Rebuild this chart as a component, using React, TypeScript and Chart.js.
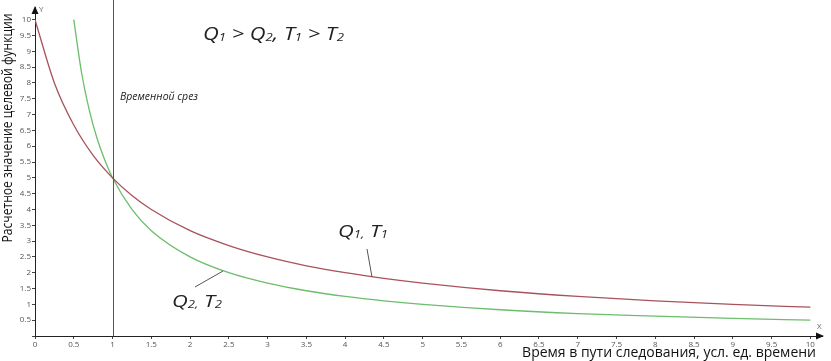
import React, { useEffect, useRef } from "react";
import { Chart, registerables } from "chart.js";

Chart.register(...registerables);

// Q1, T1 curve (red)
const q1X = [0, 0.25, 0.5, 0.75, 1, 1.25, 1.5, 2, 2.5, 3, 3.5, 4, 4.5, 5, 6, 7, 8, 9, 10];
const q1Y = [10, 8, 6.67, 5.71, 5, 4.44, 4, 3.33, 2.86, 2.5, 2.22, 2, 1.82, 1.67, 1.43, 1.25, 1.11, 1, 0.91];

// Q2, T2 curve (green)
const q2X = [0.5, 0.6, 0.7, 0.8, 0.9, 1, 1.25, 1.5, 2, 2.5, 3, 3.5, 4, 4.5, 5, 6, 7, 8, 9, 10];
const q2Y = [10, 8.33, 7.14, 6.25, 5.56, 5, 4, 3.33, 2.5, 2, 1.67, 1.43, 1.25, 1.11, 1, 0.83, 0.71, 0.63, 0.56, 0.5];

const timeSlice = 1;
const xTickLabels = ["0", "0.5", "1", "1.5", "2", "2.5", "3", "3.5", "4", "4.5", "5", "5.5", "6", "6.5", "7", "7.5", "8", "8.5", "9", "9.5", "10"];
const yTickLabels = ["", "0.5", "1", "1.5", "2", "2.5", "3", "3.5", "4", "4.5", "5", "5.5", "6", "6.5", "7", "7.5", "8", "8.5", "9", "9.5", "10"];

const xTitle = "Время в пути следования, усл. ед. времени";
const yTitle = "Расчетное значение целевой функции";
const sliceLabel = "Временной срез";

type Part = { t: string; sub?: boolean };
const headline: Part[] = [
  { t: "Q" }, { t: "1", sub: true }, { t: " > Q" }, { t: "2", sub: true }, { t: ", T" }, { t: "1", sub: true }, { t: " > T" }, { t: "2", sub: true },
];
const label1: Part[] = [{ t: "Q" }, { t: "1,", sub: true }, { t: " T" }, { t: "1", sub: true }];
const label2: Part[] = [{ t: "Q" }, { t: "2,", sub: true }, { t: " T" }, { t: "2", sub: true }];

function drawRich(ctx: CanvasRenderingContext2D, parts: Part[], x: number, y: number, size: number, targetW: number) {
  ctx.save();
  ctx.textBaseline = "alphabetic";
  ctx.textAlign = "left";
  let w = 0;
  for (const p of parts) {
    ctx.font = `italic ${p.sub ? size * 0.6 : size}px "Open Sans"`;
    w += ctx.measureText(p.t).width;
  }
  ctx.translate(x, y);
  ctx.scale(targetW / w, 1);
  let cx = 0;
  for (const p of parts) {
    ctx.font = `italic ${p.sub ? size * 0.6 : size}px "Open Sans"`;
    ctx.fillText(p.t, cx, p.sub ? size * 0.04 : 0);
    cx += ctx.measureText(p.t).width;
  }
  ctx.restore();
}

const annotPlugin = {
  id: "annot",
  afterDraw(chart: any) {
    const ctx: CanvasRenderingContext2D = chart.ctx;
    const xs = chart.scales.x;
    const ys = chart.scales.y;
    const area = chart.chartArea;
    ctx.save();
    // vertical time slice line
    const vx = Math.round(xs.getPixelForValue(timeSlice)) + 0.5;
    ctx.strokeStyle = "#555";
    ctx.lineWidth = 1;
    ctx.beginPath();
    ctx.moveTo(vx, 0);
    ctx.lineTo(vx, ys.getPixelForValue(0));
    ctx.stroke();

    // arrows
    const ox = xs.getPixelForValue(0);
    const oy = ys.getPixelForValue(0);
    ctx.fillStyle = "#111";
    ctx.beginPath();
    ctx.moveTo(ox, area.top - 1);
    ctx.lineTo(ox - 3.5, area.top + 7);
    ctx.lineTo(ox + 3.5, area.top + 7);
    ctx.closePath();
    ctx.fill();
    ctx.beginPath();
    ctx.moveTo(area.right + 2, oy);
    ctx.lineTo(area.right - 6, oy - 3.5);
    ctx.lineTo(area.right - 6, oy + 3.5);
    ctx.closePath();
    ctx.fill();

    ctx.fillStyle = "#666";
    ctx.font = '8px "Open Sans"';
    ctx.textBaseline = "middle";
    ctx.textAlign = "left";
    ctx.fillText("Y", ox + 4, area.top + 3);
    ctx.fillText("X", area.right - 5, oy - 9);

    // y-axis title
    ctx.save();
    ctx.fillStyle = "#111";
    ctx.font = '15px "Open Sans"';
    ctx.textAlign = "center";
    ctx.textBaseline = "alphabetic";
    ctx.translate(12, 128);
    ctx.rotate(-Math.PI / 2);
    const yw = ctx.measureText(yTitle).width;
    ctx.scale(229 / yw, 1);
    ctx.fillText(yTitle, 0, 0);
    ctx.restore();

    // x-axis title
    ctx.fillStyle = "#111";
    ctx.font = '14px "Open Sans"';
    ctx.textAlign = "right";
    ctx.textBaseline = "alphabetic";
    ctx.fillText(xTitle, 816, 357);

    ctx.fillStyle = "#222";
    drawRich(ctx, headline, 203, 40, 18.5, 141);
    ctx.font = 'italic 10.5px "Open Sans"';
    ctx.textBaseline = "alphabetic";
    ctx.textAlign = "left";
    ctx.fillText(sliceLabel, 120, 100);

    drawRich(ctx, label1, 338, 237, 16.5, 50);
    drawRich(ctx, label2, 172, 307, 16.5, 50);

    // leader lines
    ctx.strokeStyle = "#555";
    ctx.lineWidth = 1;
    ctx.beginPath();
    ctx.moveTo(367, 249);
    ctx.lineTo(372, 277);
    ctx.moveTo(195, 287);
    ctx.lineTo(223, 271);
    ctx.stroke();
    ctx.restore();
  },
};

export default function App() {
  const ref = useRef<HTMLCanvasElement>(null);
  useEffect(() => {
    if (!ref.current) return;
    Chart.defaults.font.family = '"Open Sans"';
    const chart = new Chart(ref.current, {
      type: "line",
      data: {
        datasets: [
          {
            label: "Q1, T1",
            data: q1X.map((x, i) => ({ x, y: q1Y[i] })),
            borderColor: "#a8525c",
            borderWidth: 1.3,
            pointRadius: 0,
            cubicInterpolationMode: "monotone",
            fill: false,
          },
          {
            label: "Q2, T2",
            data: q2X.map((x, i) => ({ x, y: q2Y[i] })),
            borderColor: "#6cbd6c",
            borderWidth: 1.3,
            pointRadius: 0,
            cubicInterpolationMode: "monotone",
            fill: false,
          },
        ],
      },
      options: {
        responsive: false,
        animation: false,
        layout: { padding: { top: 7, right: 9, left: 0, bottom: 0 } },
        plugins: { legend: { display: false }, tooltip: { enabled: false } },
        scales: {
          x: {
            type: "linear",
            min: 0,
            max: 10.15,
            border: { color: "#222", width: 1 },
            grid: { drawOnChartArea: false, drawTicks: true, tickLength: 3, color: "#444" },
            ticks: {
              stepSize: 0.5,
              includeBounds: false,
              maxRotation: 0,
              autoSkip: false,
              padding: 1,
              color: "#555",
              font: { size: 8 },
              callback: (v: any) => xTickLabels[Math.round(Number(v) * 2)] ?? "",
            },
            afterFit: (s: any) => {
              s.height = 25;
            },
          },
          y: {
            type: "linear",
            min: 0,
            max: 10.4,
            border: { color: "#222", width: 1 },
            grid: { drawOnChartArea: false, drawTicks: true, tickLength: 3, color: "#444" },
            ticks: {
              stepSize: 0.5,
              includeBounds: false,
              autoSkip: false,
              padding: 1,
              color: "#555",
              font: { size: 8 },
              callback: (v: any) => yTickLabels[Math.round(Number(v) * 2)] ?? "",
            },
            afterFit: (s: any) => {
              s.width = 35;
            },
          },
        },
      },
      plugins: [annotPlugin],
    } as any);
    return () => chart.destroy();
  }, []);
  return (
    <div style={{ position: "fixed", left: 0, top: 0, width: 831, height: 361, background: "#fff" }}>
      <canvas ref={ref} width={831} height={361} />
    </div>
  );
}
